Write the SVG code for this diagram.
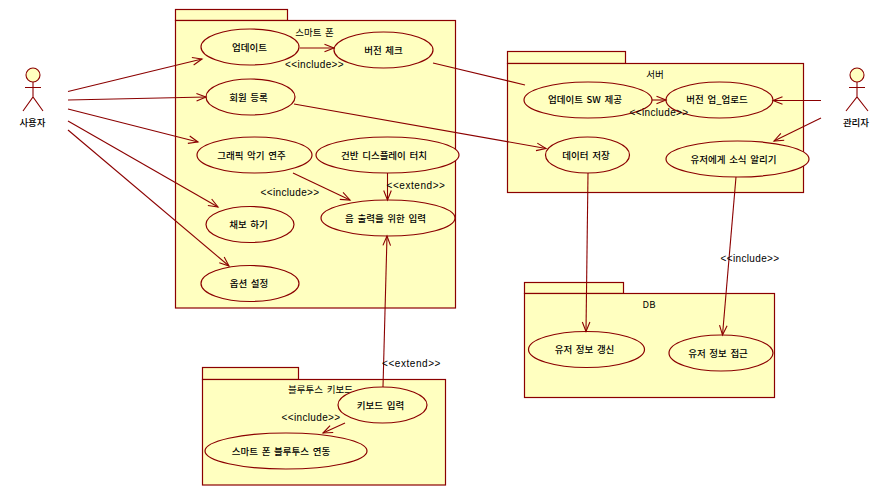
<svg xmlns="http://www.w3.org/2000/svg" width="895" height="496" viewBox="0 0 895 496">
<style>
.pk{fill:#ffffc0;stroke:#8b0000;stroke-width:1.2}
.uc{fill:#ffffc0;stroke:#8b0000;stroke-width:1.2}
.ac{fill:none;stroke:#8b0000;stroke-width:1.1}
.head{fill:#ffffc0;stroke:#8b0000;stroke-width:1.1}
.c{fill:none;stroke:#8b0000;stroke-width:1.1}
.a{marker-end:url(#open)}
text{fill:#000;font-family:"Noto Sans CJK KR","Noto Sans",sans-serif;font-size:9.5px;word-spacing:1.5px;text-anchor:middle}
.t{font-weight:500}
.l{font-family:"Liberation Sans",Arial,sans-serif;font-size:10px;letter-spacing:.35px;word-spacing:0}
.e{letter-spacing:.55px}
</style>
<defs>
<marker id="open" markerUnits="userSpaceOnUse" markerWidth="14" markerHeight="12" refX="11" refY="6" orient="auto" overflow="visible">
<path d="M1.500,2.200 L11,6 L1.500,9.800" fill="none" stroke="#8b0000" stroke-width="1.1"/>
</marker>
</defs>
<rect width="895" height="496" fill="#fff"/>
<g id="pkg-smartphone">
<rect class="pk" x="175.500" y="9.500" width="112" height="11"/>
<rect class="pk" x="175.500" y="20.500" width="280" height="287.500"/>
<text x="314.500" y="36">스마트 폰</text>
</g>
<g id="pkg-bluetooth">
<rect class="pk" x="202.500" y="367.500" width="96" height="12"/>
<rect class="pk" x="202.500" y="379.500" width="243" height="105.500"/>
<text x="320.500" y="393">블루투스 키보드</text>
</g>
<g id="pkg-server">
<rect class="pk" x="507.500" y="51.500" width="118" height="12"/>
<rect class="pk" x="507.500" y="63.500" width="296" height="129"/>
<text x="655" y="78">서버</text>
</g>
<g id="pkg-db">
<rect class="pk" x="524.500" y="282.500" width="99" height="11"/>
<rect class="pk" x="524.500" y="293.500" width="250" height="104"/>
<text x="649" y="308">DB</text>
</g>
<g id="uc-update"><ellipse class="uc" cx="250" cy="47" rx="49" ry="18"/><text class="t" x="249.500" y="50.500">업데이트</text></g>
<g id="uc-version-check"><ellipse class="uc" cx="383.500" cy="50" rx="49.500" ry="18"/><text class="t" x="383.500" y="53.500">버전 체크</text></g>
<g id="uc-register"><ellipse class="uc" cx="250.500" cy="97" rx="44.500" ry="18"/><text class="t" x="248.500" y="100.500">회원 등록</text></g>
<g id="uc-play"><ellipse class="uc" cx="254.500" cy="155" rx="57.500" ry="18"/><text class="t" x="251.500" y="158.500">그래픽 악기 연주</text></g>
<g id="uc-touch"><ellipse class="uc" cx="387.500" cy="155" rx="71.500" ry="18"/><text class="t" x="384" y="158.500">건반 디스플레이 터치</text></g>
<g id="uc-input"><ellipse class="uc" cx="388" cy="218" rx="67" ry="18"/><text class="t" x="385.500" y="221.500">음 출력을 위한 입력</text></g>
<g id="uc-score"><ellipse class="uc" cx="250" cy="224.500" rx="44" ry="18"/><text class="t" x="248.500" y="228">채보 하기</text></g>
<g id="uc-options"><ellipse class="uc" cx="250" cy="283.500" rx="49" ry="18"/><text class="t" x="249" y="287">옵션 설정</text></g>
<g id="uc-keyboard"><ellipse class="uc" cx="382.500" cy="405" rx="44.500" ry="18"/><text class="t" x="380.500" y="408.500">키보드 입력</text></g>
<g id="uc-bt"><ellipse class="uc" cx="286" cy="451" rx="81" ry="18"/><text class="t" x="281" y="454.500">스마트 폰 블루투스 연동</text></g>
<g id="uc-sw"><ellipse class="uc" cx="588" cy="100" rx="64" ry="18"/><text class="t" x="585" y="103">업데이트 SW 제공</text></g>
<g id="uc-upload"><ellipse class="uc" cx="719.500" cy="100" rx="53.500" ry="18"/><text class="t" x="717" y="103">버전 업_업로드</text></g>
<g id="uc-store"><ellipse class="uc" cx="587.500" cy="155" rx="42" ry="18"/><text class="t" x="586" y="158.500">데이터 저장</text></g>
<g id="uc-notify"><ellipse class="uc" cx="737.500" cy="159" rx="71.500" ry="18"/><text class="t" x="733.500" y="162.500">유저에게 소식 알리기</text></g>
<g id="uc-db-update"><ellipse class="uc" cx="586.500" cy="349.500" rx="58" ry="18"/><text class="t" x="584.500" y="353">유저 정보 갱신</text></g>
<g id="uc-db-access"><ellipse class="uc" cx="721" cy="353" rx="52" ry="18"/><text class="t" x="718" y="356.500">유저 정보 접근</text></g>
<g id="actor-user">
<circle class="head" cx="33" cy="75" r="7"/>
<path class="ac" d="M33,82 V97 M25,87.500 H41 M23,111 L33,97 L43,111"/>
<text class="t" x="32.500" y="125.500">사용자</text>
</g>
<g id="actor-admin">
<circle class="head" cx="857" cy="75" r="7"/>
<path class="ac" d="M857,82 V97 M849,87.500 H865 M846,111 L857,97 L868,111"/>
<text class="t" x="856" y="125.500">관리자</text>
</g>
<g id="connectors">
<line class="c a" x1="68" y1="91.500" x2="202" y2="59"/>
<line class="c a" x1="68" y1="100" x2="206" y2="97"/>
<line class="c a" x1="68" y1="109" x2="198" y2="142"/>
<line class="c a" x1="68" y1="121" x2="218" y2="207"/>
<line class="c a" x1="68" y1="130" x2="229" y2="266"/>
<line class="c a" x1="300" y1="48" x2="334" y2="48"/>
<line class="c" x1="433" y1="63" x2="525" y2="85"/>
<line class="c a" x1="294" y1="104" x2="546" y2="148.500"/>
<line class="c a" x1="293" y1="173" x2="350" y2="200"/>
<line class="c a" x1="387.500" y1="173" x2="387.500" y2="200"/>
<line class="c a" x1="383" y1="387" x2="387" y2="236"/>
<line class="c a" x1="345" y1="423" x2="323" y2="433"/>
<line class="c a" x1="652" y1="100" x2="666" y2="100"/>
<line class="c a" x1="821" y1="100.500" x2="773" y2="100.500"/>
<line class="c a" x1="821" y1="118" x2="774" y2="141"/>
<line class="c a" x1="588" y1="173" x2="586" y2="331.500"/>
<line class="c a" x1="736" y1="177" x2="722.500" y2="335"/>
<text class="l" x="314.500" y="68">&lt;&lt;include&gt;&gt;</text>
<text class="l" x="290" y="196">&lt;&lt;include&gt;&gt;</text>
<text class="l e" x="416" y="189">&lt;&lt;extend&gt;&gt;</text>
<text class="l e" x="411.500" y="366.500">&lt;&lt;extend&gt;&gt;</text>
<text class="l" x="311" y="420.500">&lt;&lt;include&gt;&gt;</text>
<text class="l" x="659" y="116">&lt;&lt;include&gt;&gt;</text>
<text class="l" x="750" y="261.500">&lt;&lt;include&gt;&gt;</text>
</g>
</svg>
